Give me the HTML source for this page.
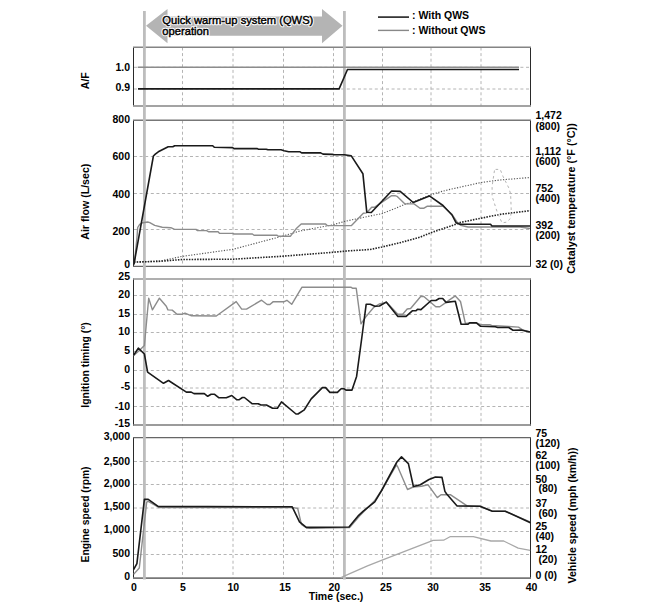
<!DOCTYPE html>
<html><head><meta charset="utf-8"><style>
html,body{margin:0;padding:0;background:#fff;}
svg{display:block;}
text{font-family:"Liberation Sans",sans-serif;font-size:10.5px;font-weight:bold;fill:#000;}
text.arr{font-size:11.2px;font-weight:normal;stroke:#fff;stroke-width:2.4px;stroke-linejoin:round;}
text.arr2{font-size:11.2px;font-weight:normal;stroke:#000;stroke-width:0.45px;}
</style></head><body>
<svg width="655" height="606" viewBox="0 0 655 606">
<rect width="655" height="606" fill="#fff"/>
<g stroke="#b4b4b4" stroke-width="1" stroke-dasharray="3,2.6" fill="none">
<line x1="182.5" y1="47.5" x2="182.5" y2="105.5"/>
<line x1="233" y1="47.5" x2="233" y2="105.5"/>
<line x1="283.5" y1="47.5" x2="283.5" y2="105.5"/>
<line x1="333.5" y1="47.5" x2="333.5" y2="105.5"/>
<line x1="382.5" y1="47.5" x2="382.5" y2="105.5"/>
<line x1="431" y1="47.5" x2="431" y2="105.5"/>
<line x1="481" y1="47.5" x2="481" y2="105.5"/>
<line x1="134" y1="67.3" x2="530" y2="67.3"/>
<line x1="134" y1="89" x2="530" y2="89"/>
<line x1="182.5" y1="120.5" x2="182.5" y2="266.5"/>
<line x1="233" y1="120.5" x2="233" y2="266.5"/>
<line x1="283.5" y1="120.5" x2="283.5" y2="266.5"/>
<line x1="333.5" y1="120.5" x2="333.5" y2="266.5"/>
<line x1="382.5" y1="120.5" x2="382.5" y2="266.5"/>
<line x1="431" y1="120.5" x2="431" y2="266.5"/>
<line x1="481" y1="120.5" x2="481" y2="266.5"/>
<line x1="134" y1="156.5" x2="530" y2="156.5"/>
<line x1="134" y1="193.5" x2="530" y2="193.5"/>
<line x1="134" y1="229.5" x2="530" y2="229.5"/>
<line x1="182.5" y1="278.5" x2="182.5" y2="425.5"/>
<line x1="233" y1="278.5" x2="233" y2="425.5"/>
<line x1="283.5" y1="278.5" x2="283.5" y2="425.5"/>
<line x1="333.5" y1="278.5" x2="333.5" y2="425.5"/>
<line x1="382.5" y1="278.5" x2="382.5" y2="425.5"/>
<line x1="431" y1="278.5" x2="431" y2="425.5"/>
<line x1="481" y1="278.5" x2="481" y2="425.5"/>
<line x1="134" y1="295.5" x2="530" y2="295.5"/>
<line x1="134" y1="314.5" x2="530" y2="314.5"/>
<line x1="134" y1="332.5" x2="530" y2="332.5"/>
<line x1="134" y1="351.5" x2="530" y2="351.5"/>
<line x1="134" y1="370.5" x2="530" y2="370.5"/>
<line x1="134" y1="388" x2="530" y2="388"/>
<line x1="134" y1="406.5" x2="530" y2="406.5"/>
<line x1="182.5" y1="437.5" x2="182.5" y2="578"/>
<line x1="233" y1="437.5" x2="233" y2="578"/>
<line x1="283.5" y1="437.5" x2="283.5" y2="578"/>
<line x1="333.5" y1="437.5" x2="333.5" y2="578"/>
<line x1="382.5" y1="437.5" x2="382.5" y2="578"/>
<line x1="431" y1="437.5" x2="431" y2="578"/>
<line x1="481" y1="437.5" x2="481" y2="578"/>
<line x1="134" y1="461.5" x2="530" y2="461.5"/>
<line x1="134" y1="484.5" x2="530" y2="484.5"/>
<line x1="134" y1="508" x2="530" y2="508"/>
<line x1="134" y1="531.5" x2="530" y2="531.5"/>
<line x1="134" y1="554.5" x2="530" y2="554.5"/>
</g>
<line x1="133.5" y1="47.5" x2="133.5" y2="105.5" stroke="#2a2a2a" stroke-width="1"/>
<line x1="530.5" y1="47.5" x2="530.5" y2="105.5" stroke="#2a2a2a" stroke-width="1"/>
<line x1="133.5" y1="120.5" x2="133.5" y2="266.5" stroke="#2a2a2a" stroke-width="1"/>
<line x1="530.5" y1="120.5" x2="530.5" y2="266.5" stroke="#2a2a2a" stroke-width="1"/>
<line x1="133.5" y1="278.5" x2="133.5" y2="425.5" stroke="#2a2a2a" stroke-width="1"/>
<line x1="530.5" y1="278.5" x2="530.5" y2="425.5" stroke="#2a2a2a" stroke-width="1"/>
<line x1="133.5" y1="437.5" x2="133.5" y2="578" stroke="#2a2a2a" stroke-width="1"/>
<line x1="530.5" y1="437.5" x2="530.5" y2="578" stroke="#2a2a2a" stroke-width="1"/>
<line x1="133" y1="47.2" x2="531" y2="47.2" stroke="#848484" stroke-width="1.5"/>
<line x1="133" y1="105.9" x2="531" y2="105.9" stroke="#858585" stroke-width="1.5"/>
<line x1="133" y1="120.2" x2="531" y2="120.2" stroke="#777" stroke-width="1.4"/>
<line x1="133" y1="266.4" x2="531" y2="266.4" stroke="#666" stroke-width="1.2"/>
<line x1="133" y1="279" x2="531" y2="279" stroke="#959595" stroke-width="1.6"/>
<line x1="133" y1="425" x2="531" y2="425" stroke="#7a7a7a" stroke-width="1.5"/>
<line x1="133" y1="437.6" x2="531" y2="437.6" stroke="#666" stroke-width="1.2"/>
<line x1="133" y1="578.1" x2="531" y2="578.1" stroke="#777" stroke-width="1.6"/>
<rect x="143" y="11" width="2.8" height="568.5" fill="#bdbdbd"/>
<rect x="343" y="11" width="2.8" height="568.5" fill="#bdbdbd"/>
<polygon points="146,25.8 167.5,9 167.5,16.5 322,16.5 322,9 342.5,25.8 322,43.3 322,35.7 167.5,35.7 167.5,43.3" fill="#b4b4b4"/>
<polyline points="137.7,67.3 519,67.3" fill="none" stroke="#8c8c8c" stroke-width="1.6"/>
<polyline points="138,88.9 339.1,88.9 347.5,69.5 519,69.5" fill="none" stroke="#1a1a1a" stroke-width="1.6"/>
<polyline points="134,262.1 160,261 182,256.4 233,249.3 280,236.8 300,231 333,224.8 345,221.3 370,216 382,213.6 395,208.5 405,204.3 413,202 430,195.1 440,191.9 450,189.4 481,182.5 500,180 530,177.5" fill="none" stroke="#555" stroke-width="1.15" stroke-dasharray="1.2,1.55"/>
<polyline points="134,262.1 160,261.3 182,259.5 233,259.2 280,256.4 333,252.3 345,251.1 370,249.5 382,247 400,242.7 420,237.2 431,232.7 450,226.3 460,222.6 481,218.2 500,214.4 530,210.7" fill="none" stroke="#222" stroke-width="1.6" stroke-dasharray="1.5,1.25"/>
<polygon points="495.6,169.4 500.2,169.4 503.1,176.6 508.9,188.1 510.6,193.9 511.2,208.9 510.6,218.2 506.6,222.2 502,222.8 497.3,212.4 492.1,196.2 492.1,186.4 494.5,170.2" fill="none" stroke="#b4b4b4" stroke-width="1" stroke-dasharray="2.6,3"/>
<polyline points="134.3,264 137,237.2 137.7,227.5 139.7,224.3 142.9,222.7 147.7,222 149.8,222.7 154.7,225.4 162.2,227.2 170.8,227.7 174.6,229.4 196,229.4 197.5,230.6 206.6,230.6 208.9,231.8 218.1,231.8 219.6,233.4 232.6,233.4 234.1,234 252.4,234 254,235.2 276.8,235.1 278.3,236.2 290.5,236.2 296.6,228.2 301.2,224 325.6,224 327.2,225.6 351.5,225.5 363.3,213.3 366.4,212.9 371.7,207.2 374.8,207.2 391.6,195.7 395,195.7 397,196.3 405,203.9 414,203.9 420,208.2 424,208.2 427,206.3 443,206.3 452,214.3 457,221.9 460.5,225.3 468,227 520,227 530,228.5" fill="none" stroke="#8c8c8c" stroke-width="1.4" stroke-linejoin="round"/>
<polyline points="133.9,264.5 153.4,156 155.3,154.1 158.3,151.8 168.2,146.8 172.8,146.8 174.7,145.7 212.7,145.7 214.3,147.3 232.6,147.6 234.1,148.6 257,148.6 258.5,149.2 266.2,149.2 268,149.8 281,149.8 284.1,150.7 288.7,151.8 300.1,151.8 301.6,152.9 320.7,152.9 323,154.1 332.2,154.4 334.5,154.8 344.4,154.8 351.3,155.9 362.9,173.7 366.8,212.3 371.3,212.5 391.6,191 400.2,191.4 413.2,202.5 429.4,195.9 443,205.5 452,215 456,222.7 460,224.2 490.5,224.2 492,226 530,226" fill="none" stroke="#1a1a1a" stroke-width="1.6" stroke-linejoin="round"/>
<polyline points="133.7,355.6 139.6,350.3 144.4,345.5 148.7,298.2 152.4,309.9 159.4,298.2 166.3,306.2 167.9,309.9 172.2,310.1 177,314.2 182.4,314.2 185,313.1 191.5,315.8 216.3,316 236.2,301.6 241.7,309.1 246.5,309.1 261.6,300.2 267.1,304.5 269.9,304.5 273.3,301.6 283.7,301.8 286.9,300.3 291.7,304.3 302,287.2 350.8,287.2 352.4,288.2 356.2,288.2 361,323.8 365.8,316.9 373.8,307.3 379.2,304 382.4,303.3 386.3,302.1 397.8,314.3 402.7,314.3 407.2,309 410.6,308.5 420.9,296.2 423.8,296.5 435.8,306.8 439.8,306.8 446.1,302.4 449.5,299.9 455.3,295.9 460.5,301.5 465.4,323.5 469.7,322.9 476.4,322.9 480.6,324.7 489.8,324.7 491.6,325.5 508.7,326.5 518.5,327.1 522.8,330 530,332" fill="none" stroke="#8c8c8c" stroke-width="1.4" stroke-linejoin="round"/>
<polyline points="133.7,355.1 138.3,348.2 144.4,354 147.6,372.2 163.5,383.3 168.5,380.5 186.4,392.1 191.2,392.1 194,393.6 204.3,393.6 207.7,396.3 211.1,394.3 214.6,394.3 218.7,397.7 226.3,397.7 231.8,395.5 236.9,399.8 238.9,399.8 242.4,397.5 244.4,397.5 252,403.7 258.2,403.7 260.9,405 266.4,405 272.6,408.2 277.4,408.2 281.5,401.9 296,414 298,414 304.3,409.8 311.2,398.9 322.4,387.6 325.6,387.6 329.9,392.4 337.4,392.4 341.1,388.7 343.8,388.7 346,390.1 352,390.1 356.6,376.4 361.5,340 366.2,304.2 370.3,304.2 374.9,306.2 379.5,306 386.2,302.1 397.9,316.4 406.1,316.4 412.3,310.8 415.8,310.8 417.5,309.3 420.9,309.6 431.2,300.5 435.8,300.5 439.2,298.5 442.7,298.5 446.1,302.4 455.3,301.3 461.1,324.3 467.8,324.3 469.7,322.9 476.4,322.9 480.6,326.3 495.3,326.8 497.7,327.5 508.7,327.5 513,330.2 521,330 530,332" fill="none" stroke="#1a1a1a" stroke-width="1.6" stroke-linejoin="round"/>
<polyline points="340.7,577.9 345.3,575.6 367.5,565.9 382.7,559.8 433.1,540.4 443.6,540.2 450,536.7 473.3,536.7 490.9,541 503.7,541 518.2,548.2 530.2,550.3" fill="none" stroke="#a8a8a8" stroke-width="1.3" stroke-linejoin="round"/>
<polyline points="133.6,574.4 139.3,568 146.7,502.2 148.2,501.4 158.9,507.5 292.2,507.5 297.7,508.4 301.4,524.3 306.3,527.7 309.9,528.2 349.6,527.6 359.5,516 374.8,500.4 381.6,490.5 396.5,464.8 397.7,466.8 407.5,489.5 413.2,487 421.5,486.3 427.9,484.7 437.3,497.6 441,494.8 450.3,494.7 467.1,505.9 480,506.3 492.3,511.2 505.2,511.2 530,521.9" fill="none" stroke="#8c8c8c" stroke-width="1.4" stroke-linejoin="round"/>
<polyline points="133.6,569.5 136.9,563.6 144.4,499.4 148.2,499.4 158.1,506.4 292.2,506.8 299.5,521.9 306.3,527.4 349,527 358.7,515.3 363.3,511.1 374.8,501.9 381.6,490.5 396.9,462 401.5,456.9 408.4,463.6 413.4,486.5 420.3,484.8 429,479.5 435.4,477 442,477.4 444.9,491.4 446.5,493.7 457.1,505.9 480,506.3 492.3,511.2 505.2,511.2 530.4,522.7" fill="none" stroke="#1a1a1a" stroke-width="1.6" stroke-linejoin="round"/>
<line x1="378" y1="17.1" x2="409" y2="17.1" stroke="#222" stroke-width="1.6"/>
<line x1="378" y1="30.4" x2="409" y2="30.4" stroke="#888" stroke-width="1.4"/>
<text x="130.0" y="70.7" text-anchor="end" >1.0</text>
<text x="130.0" y="90.6" text-anchor="end" >0.9</text>
<text x="130.0" y="122.8" text-anchor="end" >800</text>
<text x="130.0" y="159.9" text-anchor="end" >600</text>
<text x="130.0" y="197.5" text-anchor="end" >400</text>
<text x="130.0" y="234.6" text-anchor="end" >200</text>
<text x="130.0" y="267.7" text-anchor="end" >0</text>
<text x="130.0" y="280.4" text-anchor="end" >25</text>
<text x="130.0" y="297.5" text-anchor="end" >20</text>
<text x="130.0" y="316.5" text-anchor="end" >15</text>
<text x="130.0" y="334.7" text-anchor="end" >10</text>
<text x="130.0" y="353.7" text-anchor="end" >5</text>
<text x="130.0" y="372.7" text-anchor="end" >0</text>
<text x="130.0" y="389.9" text-anchor="end" >-5</text>
<text x="130.0" y="409.7" text-anchor="end" >-10</text>
<text x="130.0" y="426.5" text-anchor="end" >-15</text>
<text x="130.0" y="440.4" text-anchor="end" >3,000</text>
<text x="130.0" y="465.4" text-anchor="end" >2,500</text>
<text x="130.0" y="487.4" text-anchor="end" >2,000</text>
<text x="130.0" y="509.9" text-anchor="end" >1,500</text>
<text x="130.0" y="533.4" text-anchor="end" >1,000</text>
<text x="130.0" y="556.6" text-anchor="end" >500</text>
<text x="130.0" y="579.6" text-anchor="end" >0</text>
<text x="535.5" y="118.6" text-anchor="start" >1,472</text>
<text x="535.5" y="129.5" text-anchor="start" >(800)</text>
<text x="535.5" y="155.3" text-anchor="start" >1,112</text>
<text x="535.5" y="165" text-anchor="start" >(600)</text>
<text x="535.5" y="191.5" text-anchor="start" >752</text>
<text x="535.5" y="202.3" text-anchor="start" >(400)</text>
<text x="535.5" y="228.7" text-anchor="start" >392</text>
<text x="535.5" y="238.6" text-anchor="start" >(200)</text>
<text x="535.5" y="267.5" text-anchor="start" >32 (0)</text>
<text x="535.4" y="436.8" text-anchor="start" >75</text>
<text x="535.4" y="446.7" text-anchor="start" >(120)</text>
<text x="535.4" y="459.4" text-anchor="start" >62</text>
<text x="535.4" y="468.9" text-anchor="start" >(100)</text>
<text x="535.4" y="482.5" text-anchor="start" >50</text>
<text x="538.5" y="491.8" text-anchor="start" >(80)</text>
<text x="535.4" y="506.6" text-anchor="start" >37</text>
<text x="538.5" y="516.5" text-anchor="start" >(60)</text>
<text x="535.4" y="529.5" text-anchor="start" >25</text>
<text x="535.4" y="539.6" text-anchor="start" >(40)</text>
<text x="535.4" y="552.6" text-anchor="start" >12</text>
<text x="538.5" y="562.6" text-anchor="start" >(20)</text>
<text x="535.4" y="578.9" text-anchor="start" >0 (0)</text>
<text x="134" y="590.5" text-anchor="middle" >0</text>
<text x="183" y="590.5" text-anchor="middle" >5</text>
<text x="233.3" y="590.5" text-anchor="middle" >10</text>
<text x="285" y="590.5" text-anchor="middle" >15</text>
<text x="334.3" y="590.5" text-anchor="middle" >20</text>
<text x="385.9" y="590.5" text-anchor="middle" >25</text>
<text x="433.1" y="590.5" text-anchor="middle" >30</text>
<text x="485" y="590.5" text-anchor="middle" >35</text>
<text x="531.6" y="590.5" text-anchor="middle" >40</text>
<text x="336" y="599.5" text-anchor="middle" >Time (sec.)</text>
<text x="0" y="0" text-anchor="middle" transform="translate(89,80.75) rotate(-90)">A/F</text>
<text x="0" y="0" text-anchor="middle" textLength="76.2" lengthAdjust="spacingAndGlyphs" transform="translate(89,201.7) rotate(-90)">Air flow (L/sec)</text>
<text x="0" y="0" text-anchor="middle" textLength="85.4" lengthAdjust="spacingAndGlyphs" transform="translate(89,364.95) rotate(-90)">Ignition timing (°)</text>
<text x="0" y="0" text-anchor="middle" textLength="96.0" lengthAdjust="spacingAndGlyphs" transform="translate(89,514.45) rotate(-90)">Engine speed (rpm)</text>
<text x="0" y="0" text-anchor="middle" textLength="150.4" lengthAdjust="spacingAndGlyphs" transform="translate(575,198.5) rotate(-90)">Catalyst temperature (°F (°C))</text>
<text x="0" y="0" text-anchor="middle" transform="translate(575.5,515.5) rotate(-90)">Vehicle speed (mph (km/h))</text>
<text x="412" y="18.8" text-anchor="start" >: With QWS</text>
<text x="412" y="33.7" text-anchor="start" >: Without QWS</text>
<text x="162.3" y="23.8" class="arr">Quick warm-up system (QWS)</text>
<text x="162.3" y="34.9" class="arr">operation</text>
<text x="162.3" y="23.8" class="arr2">Quick warm-up system (QWS)</text>
<text x="162.3" y="34.9" class="arr2">operation</text>
</svg>
</body></html>
